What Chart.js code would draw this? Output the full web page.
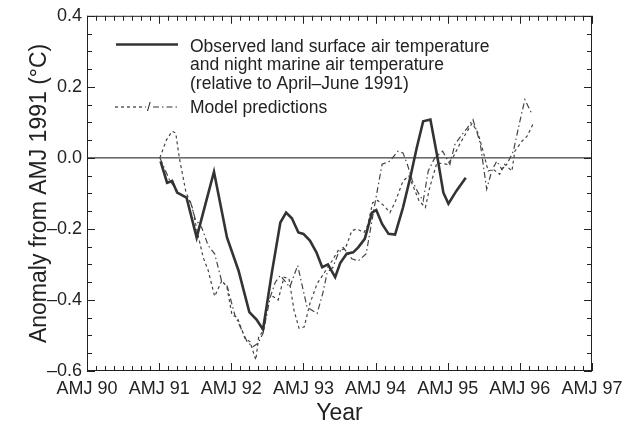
<!DOCTYPE html>
<html lang="en">
<head>
    <meta charset="UTF-8" />
    <title>Anomaly from AMJ 1991</title>
    <script src="https://cdn.jsdelivr.net/npm/chart.js"></script>
    <style>
        body { margin: 0; background: #fff; }
        canvas { display: block; }
    </style>
</head>
<body>
<canvas id="tempChart" width="633" height="430"></canvas>

<script>
    // tick labels
    const yearLabels = ['AMJ 90', 'AMJ 91', 'AMJ 92', 'AMJ 93', 'AMJ 94', 'AMJ 95', 'AMJ 96', 'AMJ 97'];
    const firstYear = 90;

    // observed land + night marine air temperature
    const obsYear = [91.02, 91.11, 91.18, 91.25, 91.38, 91.52, 91.76, 91.94, 92.10, 92.25, 92.35, 92.44, 92.56, 92.68, 92.76,
        92.84, 92.93, 93.00, 93.09, 93.18, 93.26, 93.34, 93.44, 93.51, 93.60, 93.69, 93.76, 93.85, 93.95, 94.01,
        94.09, 94.18, 94.27, 94.38, 94.48, 94.57, 94.66, 94.76, 94.85, 94.94, 95.01, 95.12, 95.25];
    const obsValue = [-0.01, -0.07, -0.065, -0.098, -0.112, -0.224, -0.039, -0.224, -0.317, -0.434, -0.455, -0.483, -0.326, -0.182, -0.154,
        -0.17, -0.21, -0.214, -0.233, -0.266, -0.308, -0.30, -0.336, -0.296, -0.27, -0.266, -0.252, -0.228, -0.154, -0.147,
        -0.186, -0.214, -0.216, -0.14, -0.056, 0.028, 0.103, 0.108, 0.01, -0.098, -0.129, -0.093, -0.056];

    // model run (dashed)
    const modelAYear = [91.01, 91.10, 91.18, 91.23, 91.28, 91.37, 91.46, 91.52, 91.61, 91.68, 91.77, 91.87, 91.94, 92.01, 92.08,
        92.19, 92.26, 92.34, 92.38, 92.45, 92.51, 92.58, 92.65, 92.73, 92.80, 92.87, 92.94, 93.01, 93.09, 93.19,
        93.30, 93.40, 93.48, 93.58, 93.67, 93.74, 93.84, 93.89, 93.96, 94.03, 94.12, 94.20, 94.28, 94.38, 94.46,
        94.53, 94.60, 94.69, 94.75, 94.85, 94.99, 95.07, 95.17, 95.27, 95.34, 95.42, 95.49, 95.56, 95.63, 95.72,
        95.79, 95.89, 95.93, 96.03, 96.10, 96.18];
    const modelAValue = [0.0, 0.05, 0.075, 0.07, 0.0, -0.095, -0.14, -0.2, -0.28, -0.317, -0.39, -0.345, -0.364, -0.443, -0.448,
        -0.508, -0.518, -0.569, -0.504, -0.485, -0.396, -0.39, -0.40, -0.336, -0.34, -0.43, -0.48, -0.476, -0.41, -0.354,
        -0.32, -0.289, -0.261, -0.256, -0.205, -0.20, -0.21, -0.19, -0.126, -0.12, -0.135, -0.154, -0.12, -0.065, -0.051,
        -0.084, -0.12, -0.14, -0.084, -0.014, -0.018, 0.0, 0.04, 0.075, 0.098, 0.07, 0.019, -0.037, -0.032, -0.046,
        -0.018, -0.037, 0.019, 0.047, 0.061, 0.094];

    // model run (dash-dot)
    const modelBYear = [91.01, 91.15, 91.29, 91.43, 91.50, 91.59, 91.68, 91.77, 91.87, 91.94, 92.05, 92.22, 92.30, 92.37, 92.44,
        92.54, 92.61, 92.68, 92.81, 92.92, 93.05, 93.19, 93.27, 93.33, 93.41, 93.48, 93.55, 93.67, 93.76, 93.87,
        93.99, 94.09, 94.20, 94.31, 94.38, 94.44, 94.51, 94.59, 94.66, 94.73, 94.82, 94.93, 95.03, 95.10, 95.20,
        95.27, 95.35, 95.45, 95.54, 95.61, 95.68, 95.75, 95.82, 95.91, 96.00, 96.07, 96.17];
    const modelBValue = [0.0, -0.065, -0.102, -0.121, -0.172, -0.196, -0.247, -0.27, -0.35, -0.359, -0.443, -0.518, -0.532, -0.522, -0.494,
        -0.392, -0.35, -0.331, -0.364, -0.303, -0.42, -0.438, -0.38, -0.322, -0.308, -0.27, -0.252, -0.284, -0.29, -0.27,
        -0.13, -0.018, -0.009, 0.019, 0.014, -0.018, -0.065, -0.098, -0.121, -0.037, 0.0, 0.019, -0.018, 0.038, 0.066,
        0.084, 0.108, 0.042, -0.088, -0.037, -0.009, -0.032, -0.018, 0.019, 0.103, 0.164, 0.122];

    const FONT = '"Liberation Sans", Arial, sans-serif';
    const INK = '#222';

    function toPoints(xs, ys) {
        return xs.map((x, i) => ({ x: x, y: ys[i] }));
    }

    function fmtY(v) {
        if (Math.abs(v) < 1e-9) return '0.0';
        return v.toFixed(1).replace('-', '\u2013');
    }

    // frame, inward ticks and the zero line
    const framePlugin = {
        id: 'frame',
        beforeDatasetsDraw(chart) {
            const { ctx, chartArea: a, scales } = chart;
            const y0 = scales.y.getPixelForValue(0);
            ctx.save();
            ctx.strokeStyle = '#111';
            ctx.lineWidth = 1;
            ctx.beginPath();
            ctx.moveTo(a.left, y0);
            ctx.lineTo(a.right, y0);
            ctx.stroke();
            ctx.restore();
        },
        afterDatasetsDraw(chart) {
            const { ctx, chartArea: a, scales } = chart;
            ctx.save();
            ctx.strokeStyle = INK;
            ctx.lineWidth = 1;
            ctx.strokeRect(a.left + 0.5, a.top + 0.5, a.right - a.left - 1, a.bottom - a.top - 1);
            ctx.beginPath();
            // x ticks, 8 per year
            for (let i = 0; i <= (yearLabels.length - 1) * 8; i++) {
                const x = Math.round(scales.x.getPixelForValue(firstYear + i / 8)) + 0.5;
                const len = i % 8 === 0 ? 8 : 5;
                ctx.moveTo(x, a.bottom); ctx.lineTo(x, a.bottom - len);
                ctx.moveTo(x, a.top); ctx.lineTo(x, a.top + len);
            }
            // y ticks every 0.05
            for (let k = 0; k <= 20; k++) {
                const v = -0.6 + k * 0.05;
                const y = Math.round(scales.y.getPixelForValue(v)) + 0.5;
                const len = k % 4 === 0 ? 8 : 5;
                ctx.moveTo(a.left, y); ctx.lineTo(a.left + len, y);
                ctx.moveTo(a.right, y); ctx.lineTo(a.right - len, y);
            }
            ctx.stroke();
            ctx.restore();
        },
        afterDraw(chart) {
            // legend box, top left inside the plot
            const ctx = chart.ctx;
            ctx.save();
            ctx.fillStyle = INK;
            ctx.font = '17.5px ' + FONT;
            ctx.textBaseline = 'alphabetic';
            ctx.fillText('Observed land surface air temperature', 190, 51.5);
            ctx.fillText('and night marine air temperature', 190, 70);
            ctx.fillText('(relative to April\u2013June 1991)', 190, 88.5);
            ctx.fillText('Model predictions', 190, 113);

            ctx.strokeStyle = '#333';
            ctx.lineWidth = 2.5;
            ctx.beginPath();
            ctx.moveTo(116, 44.5); ctx.lineTo(178, 44.5);
            ctx.stroke();

            ctx.lineWidth = 1.2;
            ctx.setLineDash([3, 3]);
            ctx.beginPath();
            ctx.moveTo(115, 107); ctx.lineTo(146, 107);
            ctx.stroke();
            ctx.setLineDash([6, 3, 1.5, 3]);
            ctx.beginPath();
            ctx.moveTo(153, 107); ctx.lineTo(179, 107);
            ctx.stroke();
            ctx.setLineDash([]);
            ctx.font = '13px ' + FONT;
            ctx.fillText('/', 147, 111);
            ctx.restore();
        }
    };

    new Chart(document.getElementById('tempChart'), {
        type: 'line',
        data: {
            datasets: [{
                label: 'Observed',
                data: toPoints(obsYear, obsValue),
                borderColor: '#333',
                borderWidth: 2.6,
                pointRadius: 0,
                tension: 0
            }, {
                label: 'Model (dashed)',
                data: toPoints(modelAYear, modelAValue),
                borderColor: '#444',
                borderWidth: 1.2,
                borderDash: [3, 3],
                pointRadius: 0,
                tension: 0
            }, {
                label: 'Model (dash-dot)',
                data: toPoints(modelBYear, modelBValue),
                borderColor: '#444',
                borderWidth: 1.2,
                borderDash: [6, 3, 1.5, 3],
                pointRadius: 0,
                tension: 0
            }]
        },
        options: {
            responsive: false,
            animation: false,
            devicePixelRatio: 1,
            layout: { padding: { top: 14, right: 41, left: 0, bottom: 0 } },
            plugins: {
                legend: { display: false },
                tooltip: { enabled: false }
            },
            scales: {
                x: {
                    type: 'linear',
                    min: firstYear,
                    max: firstYear + yearLabels.length - 1,
                    grid: { display: false, drawTicks: false },
                    border: { display: false },
                    afterFit(scale) { scale.height = 59; },
                    ticks: {
                        stepSize: 1,
                        padding: 7,
                        maxRotation: 0,
                        autoSkip: false,
                        color: INK,
                        font: { family: FONT, size: 18 },
                        callback: (v) => yearLabels[Math.round(v - firstYear)]
                    },
                    title: {
                        display: true,
                        text: 'Year',
                        color: INK,
                        font: { family: FONT, size: 23 },
                        padding: { top: 0, bottom: 3 }
                    }
                },
                y: {
                    min: -0.6,
                    max: 0.4,
                    grid: { display: false, drawTicks: false },
                    border: { display: false },
                    afterFit(scale) { scale.width = 87; },
                    ticks: {
                        stepSize: 0.2,
                        padding: 5,
                        color: INK,
                        font: { family: FONT, size: 18 },
                        callback: fmtY
                    },
                    title: {
                        display: true,
                        text: 'Anomaly from AMJ 1991 (\u00b0C)',
                        color: INK,
                        font: { family: FONT, size: 23 },
                        padding: { top: 26, bottom: 0 }
                    }
                }
            }
        },
        plugins: [framePlugin]
    });
</script>
</body>
</html>
